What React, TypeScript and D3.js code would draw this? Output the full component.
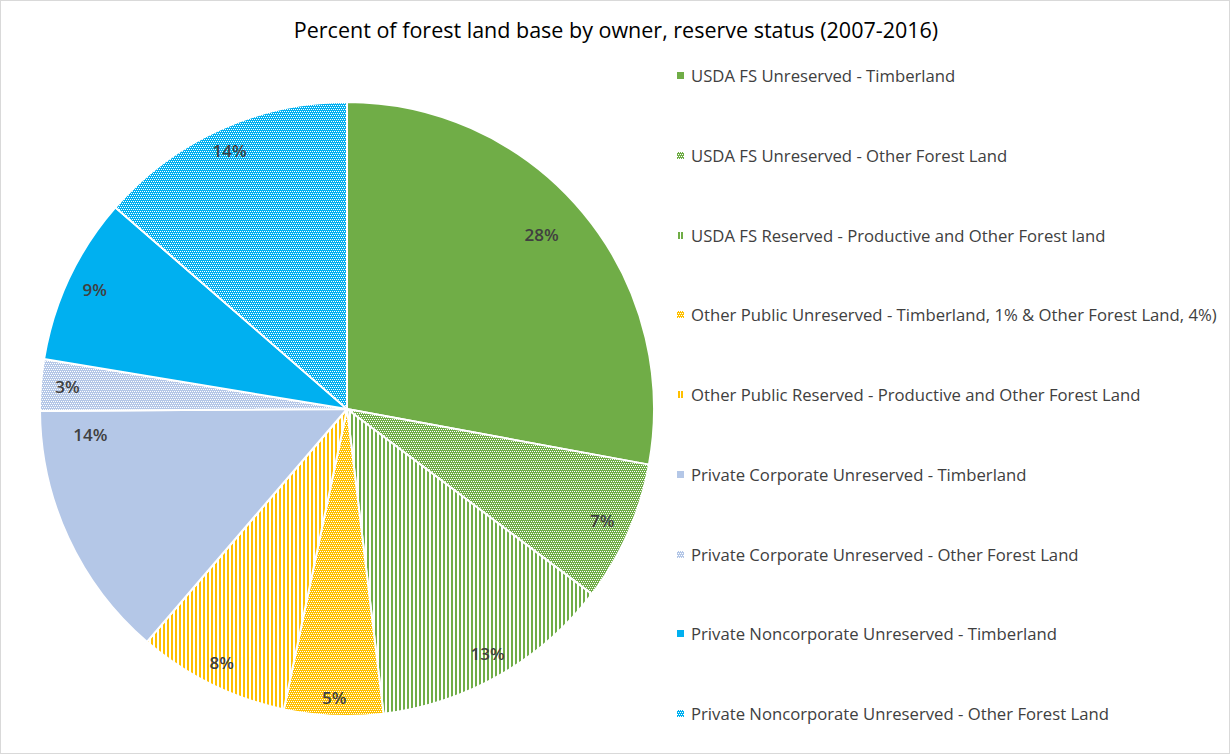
import React from "react";
import * as d3 from "d3";

const categories = [
  "USDA FS Unreserved - Timberland",
  "USDA FS Unreserved - Other Forest Land",
  "USDA FS Reserved - Productive and Other Forest land",
  "Other Public Unreserved - Timberland, 1% & Other Forest Land, 4%)",
  "Other Public Reserved - Productive and Other Forest Land",
  "Private Corporate Unreserved - Timberland",
  "Private Corporate Unreserved - Other Forest Land",
  "Private Noncorporate Unreserved  - Timberland",
  "Private Noncorporate Unreserved - Other Forest Land",
];
const values = [27.9, 7.4, 12.8, 5.2, 8.0, 13.6, 2.7, 8.8, 13.6];
const colors = ["#70AD47", "#70AD47", "#70AD47", "#FFC000", "#FFC000", "#B4C7E7", "#B4C7E7", "#00B0F0", "#00B0F0"];
const fills = ["solid", "dots", "vstripes", "dots", "vstripes", "solid", "dots", "solid", "dots"];
const title = "Percent of forest land base by owner, reserve status (2007-2016)";

const W = 1230;
const H = 754;
const cx = 347;
const cy = 409;
const R = 307;

const dotWhites = [
  [0, 0], [2, 0], [1, 2], [3, 2],
];

function Pattern({ id, kind, color }: { id: string; kind: string; color: string }) {
  if (kind === "dots") {
    return (
      <pattern id={id} patternUnits="userSpaceOnUse" width={4} height={4}>
        <rect width={4} height={4} fill={color} />
        {dotWhites.map(([x, y], k) => (
          <rect key={k} x={x} y={y} width={1} height={1} fill="#fff" />
        ))}
      </pattern>
    );
  }
  if (kind === "vstripes") {
    return (
      <pattern id={id} patternUnits="userSpaceOnUse" width={4} height={4}>
        <rect width={4} height={4} fill="#fff" />
        <rect x={0} y={0} width={2} height={4} fill={color} />
      </pattern>
    );
  }
  return null;
}

// label placement: fraction along the slice's angle (default 0.5)
const labelAngleFrac: Record<number, number> = { 5: 0.89, 0: 0.48 };

export default function App() {
  const pie = d3.pie<number>().sort(null).value((d) => d)(values);
  const arc = d3.arc<d3.PieArcDatum<number>>().innerRadius(0).outerRadius(R);
  const total = d3.sum(values);
  const fillOf = (i: number) => (fills[i] === "solid" ? colors[i] : `url(#pat${i})`);
  const legendY = d3.scalePoint<number>().domain(d3.range(categories.length)).range([76, 714]);

  return (
    <svg width={W} height={H} style={{ position: "absolute", left: 0, top: 0, fontFamily: "'Open Sans', sans-serif" }}>
      <defs>
        {fills.map((k, i) => (
          <Pattern key={i} id={`pat${i}`} kind={k} color={colors[i]} />
        ))}
      </defs>
      <rect x={0.5} y={0.5} width={W - 1} height={H - 1} fill="#fff" stroke="#d9d9d9" />
      <text x={616} y={38} textAnchor="middle" fontSize={21.5} fill="#000">
        {title}
      </text>
      <g transform={`translate(${cx},${cy})`}>
        {pie.map((p, i) => (
          <path key={i} d={arc(p) || ""} fill={fillOf(i)} stroke="#fff" strokeWidth={2} strokeLinejoin="round" />
        ))}
        {pie.map((p, i) => {
          const f = labelAngleFrac[i] ?? 0.5;
          const a = p.startAngle + (p.endAngle - p.startAngle) * f;
          const s = Math.sin(a);
          const c = Math.cos(a);
          const hw = 18;
          const hh = 9;
          let d = R - 8 - (Math.abs(s) * hw + Math.abs(c) * hh);
          if (i === 0) d = R * 0.85;
          if (i === 5) d = R * 0.84;
          return (
            <text key={i} x={s * d} y={-c * d} dy="0.35em" textAnchor="middle" fontSize={17} fontWeight={600} fill="#404040">
              {`${Math.round((p.data / total) * 100)}%`}
            </text>
          );
        })}
      </g>
      <g>
        {categories.map((c, i) => {
          const y = Math.round(legendY(i) as number);
          const mx = 677;
          const my = y - 4;
          return (
            <g key={i}>
              {fills[i] === "solid" && <rect x={mx} y={my} width={7} height={7} fill={colors[i]} />}
              {fills[i] === "dots" && (
                <g>
                  <rect x={mx} y={my} width={7} height={7} fill={colors[i]} />
                  {d3.range(7).flatMap((yy) =>
                    d3.range(7).filter((xx) => yy % 2 === 0 && (xx + yy / 2) % 2 === 0).map((xx) => (
                      <rect key={`${xx}-${yy}`} x={mx + xx} y={my + yy} width={1} height={1} fill="#fff" />
                    ))
                  )}
                </g>
              )}
              {fills[i] === "vstripes" && (
                <g>
                  <rect x={mx + 1} y={my} width={2} height={7} fill={colors[i]} />
                  <rect x={mx + 4} y={my} width={2} height={7} fill={colors[i]} />
                </g>
              )}
              <text x={691} y={y} dy="0.35em" fontSize={16.7} fill="#404040">
                {c}
              </text>
            </g>
          );
        })}
      </g>
    </svg>
  );
}
